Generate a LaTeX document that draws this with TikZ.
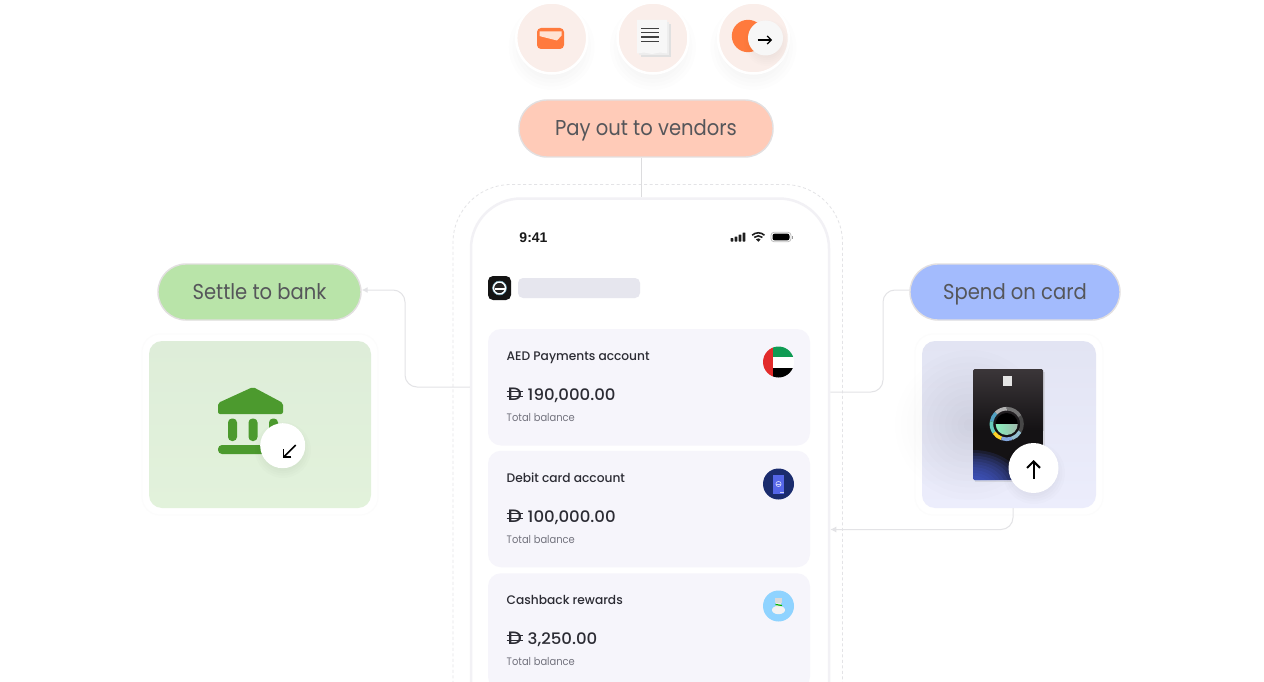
\documentclass[tikz,border=0pt]{standalone}
\usepackage{fontspec}
\setmainfont{Poppins}[FakeStretch=0.91]
\newfontfamily\medf{Poppins Medium}[FakeStretch=0.985]
\newfontfamily\amtf{Poppins Medium}[FakeStretch=1.05]
\newfontfamily\dhf{Poppins Medium}[FakeStretch=1.12]
\newfontfamily\clockf{Liberation Sans}
\usetikzlibrary{arrows.meta,calc}
\definecolor{pillpeach}{HTML}{FFCBB8}
\definecolor{pillgreen}{HTML}{B9E4A9}
\definecolor{pillblue}{HTML}{A3BBFD}
\definecolor{pilledge}{HTML}{E2DFE0}
\definecolor{pilltext}{HTML}{55565A}
\definecolor{connc}{HTML}{E3E3E6}
\definecolor{stemc}{HTML}{DCDCDE}
\definecolor{phonec}{HTML}{F2F1F5}
\definecolor{cardbg}{HTML}{F6F5FB}
\definecolor{skelc}{HTML}{E6E6EE}
\definecolor{inktitle}{HTML}{2C2C34}
\definecolor{inkgrey}{HTML}{74747F}
\definecolor{roundbg}{HTML}{FAEEEA}
\definecolor{orng}{HTML}{FF7A3D}
\definecolor{flapc}{HTML}{FFE2D3}
\definecolor{bankgreen}{HTML}{4C9A2E}
\definecolor{greentop}{HTML}{DEEDD9}
\definecolor{greenbot}{HTML}{E2F2DB}
\definecolor{lavtop}{HTML}{E2E4F3}
\definecolor{lavbot}{HTML}{ECEDFC}
\definecolor{flaggreen}{HTML}{0F9B53}
\definecolor{flagred}{HTML}{E22B2B}
\definecolor{navy}{HTML}{1B2C6E}
\definecolor{navyin}{HTML}{5566E8}
\definecolor{skyc}{HTML}{8FD3FF}
\definecolor{ccardtop}{HTML}{3B3639}
\definecolor{ccardmid}{HTML}{141214}
\definecolor{ccardblue}{HTML}{4A62E0}
\tikzset{
  pill/.style={draw=pilledge,line width=1.4pt,rounded corners=28pt,inner sep=0pt,font=\fontsize{21.5}{24}\selectfont,text=pilltext,text height=14pt,text depth=0pt},
  conn/.style={draw=connc,line width=1pt,rounded corners=12pt},
  tipped/.style={-{Latex[length=6pt,width=6pt]}},
  accard/.style={fill=cardbg,rounded corners=13pt,minimum width=322pt,minimum height=116.5pt,inner sep=0pt},
  actitle/.style={anchor=base west,inner sep=0pt,font=\medf\fontsize{12.4}{14}\selectfont,text=inktitle},
  acamount/.style={anchor=base west,inner sep=0pt,font=\amtf\fontsize{15.8}{18}\selectfont,text=inktitle},
  acnote/.style={anchor=base west,inner sep=0pt,font=\fontsize{10.9}{13}\selectfont,text=inkgrey},
  roundbadge/.style={circle,fill=roundbg,draw=white,line width=2.5pt,minimum size=71pt,inner sep=0pt},
  whitebadge/.style={circle,fill=white,inner sep=0pt},
  blackarrow/.style={draw=black,line width=1.6pt,-{Straight Barb[length=5.5pt,width=11pt]}},
  artcard/.style={rounded corners=13pt,inner sep=0pt},
}
% soft disc: centre x, y, radius, colour, opacity per layer
\newcommand{\softdisc}[5]{%
  \foreach \i in {0,...,11}{\fill[#4,opacity=#5] (#1,#2) circle ({#3*(1-\i/12)});}}
% dirham sign: index, baseline
\newcommand{\dirham}[2]{%
  \node[anchor=base west,inner sep=0pt,font=\dhf\fontsize{18}{18}\selectfont,text=inktitle] (dh#1) at (507.5,#2) {D};
  \draw[inktitle,line width=.9pt] (506.5,#2-8.2) -- (523,#2-8.2) (506.5,#2-3.6) -- (523,#2-3.6);}
\begin{document}
\begin{tikzpicture}[x=1pt,y=-1pt]
\useasboundingbox (0,0) rectangle (1264,682);
\clip (0,0) rectangle (1264,682);
\fill[white] (0,0) rectangle (1264,682);

% ---- outer dashed frame and phone
\node[draw=connc,line width=.8pt,dash pattern=on 3pt off 2.5pt,rounded corners=58pt,minimum width=389.5pt,minimum height=620pt,inner sep=0pt] (frame) at (647.75,494.5) {};
\node[draw=phonec,fill=white,line width=2.5pt,rounded corners=50pt,minimum width=358pt,minimum height=620pt,inner sep=0pt] (phone) at (650,508.5) {};

% ---- pills
\node[pill,fill=pillpeach,minimum width=254pt,minimum height=57pt] (payout) at (646,128.5) {Pay out to vendors};
\node[pill,fill=pillgreen,minimum width=203pt,minimum height=56pt] (settle) at (259.5,292) {Settle to bank};
\node[pill,fill=pillblue,minimum width=210pt,minimum height=56pt] (spend) at (1015,292) {Spend on card};

% ---- art cards
\draw[draw=black!1.2,line width=1pt,rounded corners=18pt] (142,334) rectangle (378,515);
\draw[draw=black!1.2,line width=1pt,rounded corners=18pt] (915,334) rectangle (1103,515);
\softdisc{965}{425}{70}{black}{.002}
\node[artcard,top color=greentop,bottom color=greenbot,minimum width=222pt,minimum height=167pt] (bankcard) at (260,424.5) {};
\node[artcard,top color=lavtop,bottom color=lavbot,minimum width=174pt,minimum height=167pt] (spendcard) at (1009,424.5) {};

% ---- connectors
\coordinate (bendL) at (405,340);
\coordinate (bendR) at (883,340);
\draw[conn,draw=stemc,line width=1.3pt] ([xshift=-4.5pt]payout.south) -- ([xshift=-8.5pt]phone.north);
\draw[conn,tipped] ([yshift=121.5pt]phone.west) -| (bendL) |- ([yshift=2pt]settle.east);
\draw[conn] ([yshift=116.5pt]phone.east) -| (bendR) |- ([yshift=2pt]spend.west);
\draw[conn,tipped] ([xshift=4pt]spendcard.south) |- ([yshift=-21pt]phone.east);

% ---- top badges
\softdisc{551.7}{47}{43}{black}{.008}
\softdisc{653}{47}{43}{black}{.008}
\softdisc{753.5}{47}{43}{black}{.008}
\node[roundbadge] (b1) at (551.7,38) {};
\node[roundbadge] (b2) at (653,38) {};
\node[roundbadge] (b3) at (753.5,38) {};
% wallet
\fill[orng,rounded corners=4pt] (537,28) rectangle (564,49);
\fill[flapc] (539.5,31.5) -- (561.5,31.5) -- (561.5,35.5) -- (557,40.5) -- (541,36.5) -- (539.5,36) -- cycle;
% receipt
\fill[black!12] (641,24) rectangle (670.5,57);
\fill[black!7] (639,22) rectangle (668.5,55.5);
\fill[white!97!black] (637,20) -- (667,20) -- (667,53.5) -- (660,52.5) -- (652,54) -- (644,52.5) -- (637,53.5) -- cycle;
\foreach \yy in {28.3,32.6,36.8,41.5}{\draw[black!75,line width=1.5pt] (641.3,\yy) -- (659,\yy);}
% coin and arrow
\fill[orng] (748,36) circle (16.2);
\softdisc{767}{43}{23}{black}{.007}
\node[whitebadge,minimum size=35pt,fill=white!97!black] (b3w) at (765.5,38) {};
\coordinate (a3s) at (757.7,40);
\coordinate (a3e) at (772,40);
\draw[blackarrow,line width=1.2pt,-{Straight Barb[length=4pt,width=8pt]}] (a3s) -- (a3e);

% ---- status bar
\node[anchor=center,inner sep=0pt,font=\clockf\bfseries\fontsize{14}{16}\selectfont,text=black!90] (clock) at (533.5,237.5) {9:41};
\foreach \xx/\yy in {730.5/238.2,734.5/236.5,738.5/234.5,742.5/232.5}{\fill[black!88,rounded corners=.5pt] (\xx,241.5) rectangle (\xx+2.8,\yy);}
\begin{scope}[shift={(758.3,241.8)},yscale=-1,line width=1.6pt,black!88]
  \fill (0,0) -- (133:3.4) arc[start angle=133,end angle=47,radius=3.4] -- cycle;
  \draw (133:6) arc[start angle=133,end angle=47,radius=6];
  \draw (133:9) arc[start angle=133,end angle=47,radius=9];
\end{scope}
\draw[black!25,line width=.8pt,rounded corners=3pt] (771,232.3) rectangle (791,241.7);
\fill[black,rounded corners=2.2pt] (772.5,233.6) rectangle (789.5,240.4);
\fill[black!40] (792,235.5) rectangle (793,238.5);

% ---- header of the app
\fill[black!92,rounded corners=5pt] (488,276) rectangle (511,300);
\node[circle,draw=white,line width=1.4pt,fill=black!85,minimum size=12pt,inner sep=0pt] (logo) at (499.5,288) {};
\fill[white] (494.5,287.5) rectangle (504.5,290.2);
\draw[cyan!40!white,line width=.4pt] (499.5,288) circle (7);
\fill[skelc,rounded corners=5pt] (518,278) rectangle (640,298);

% ---- account cards
\node[accard] (c1) at (649,387.25) {};
\node[accard] (c2) at (649,509) {};
\node[accard] (c3) at (649,631.5) {};

\node[actitle] (t1) at (506.5,360) {AED Payments account};
\node[actitle] (t2) at (506.5,482) {Debit card account};
\node[actitle] (t3) at (506.5,604) {Cashback rewards};
\dirham{1}{400}
\dirham{2}{522}
\dirham{3}{644}
\node[acamount] (m1) at (527.5,400) {190,000.00};
\node[acamount] (m2) at (527.5,522) {100,000.00};
\node[acamount] (m3) at (527.5,644) {3,250.00};
\node[acnote] (n1) at (506.5,421.7) {Total balance};
\node[acnote] (n2) at (506.5,543.7) {Total balance};
\node[acnote] (n3) at (506.5,665.7) {Total balance};

% flag
\begin{scope}
  \clip (778.5,362) circle (15.5);
  \fill[white] (763,346) rectangle (794,378);
  \fill[flaggreen] (773,346) rectangle (794,357);
  \fill[black] (773,367.5) rectangle (794,378);
  \fill[flagred] (763,346) rectangle (773,378);
\end{scope}
% debit icon
\fill[navy] (778.5,484) circle (15.5);
\fill[navyin] (773,475) rectangle (784,494);
\draw[white!70!navyin,line width=.7pt] (778.5,484) circle (2.6);
\fill[white!70!navyin] (776,484) rectangle (781,485);
\fill[white!70!navyin] (780,491.5) rectangle (783.5,492.7);
% cashback icon
\fill[skyc] (778.5,606) circle (15.5);
\fill[white!95!black] (778.5,610) ellipse (6.5 and 4.2);
\fill[white!85!black] (774.5,597.5) rectangle (782,603);
\fill[white!92!black] (776,603) rectangle (781,607);
\draw[green!70!black,line width=1.2pt] (775.5,604.5) -- (782,605.5);

% ---- bank art
\fill[bankgreen,rounded corners=2pt] (218,414) -- (218,403) -- (253,387) -- (283,403) -- (283,414) -- cycle;
\fill[bankgreen,rounded corners=4pt] (228,418.5) rectangle (237,441);
\fill[bankgreen,rounded corners=4pt] (248.5,418.5) rectangle (257.5,441);
\fill[bankgreen,rounded corners=4pt] (269,418.5) rectangle (278,441);
\fill[bankgreen,rounded corners=4pt] (218,445) rectangle (280,454);
\softdisc{283}{450}{28}{black}{.012}
\node[whitebadge,minimum size=45pt] (bankbadge) at (282.7,445.7) {};
\coordinate (a1s) at (295.7,445);
\coordinate (a1e) at (282.7,458);
\draw[blackarrow] (a1s) -- (a1e);

% ---- card art
\begin{scope}
  \clip[rounded corners=13pt] (922,341) rectangle (1096,508);
  \softdisc{970}{425}{75}{black}{.007}
\end{scope}
\fill[black!30,opacity=.35] (974.5,372) rectangle (1045,482);
\begin{scope}
  \clip[rounded corners=1.5pt] (973,369) rectangle (1043,480);
  \shade[top color=ccardtop,bottom color=ccardmid] (973,369) rectangle (1043,430);
  \fill[ccardmid] (973,430) rectangle (1043,480);
  \foreach \i in {0,...,13}{\fill[ccardblue,opacity=.14] (973,490) ellipse ({52*(1-\i/14)} and {40*(1-\i/14)});}
\end{scope}
\fill[white!90!black] (1002.5,376) rectangle (1012,386);
\begin{scope}[shift={(1006.7,424)},yscale=-1,line width=3.6pt]
  \foreach \sa/\ea/\cc in {30/90/black!55,-30/30/black!72,90/135/black!30,135/170/cyan!40!teal!85!white,170/215/cyan!50!green!60!white,215/250/yellow!65!orange!85!white,250/290/cyan!50!blue!50!white,290/330/black!40!cyan!50}{
    \draw[\cc] (\sa:15.3) arc[start angle=\sa,end angle=\ea,radius=15.3];}
\end{scope}
\begin{scope}
  \clip (1006.7,424) circle (11);
  \fill[black] (990,410) rectangle (1024,424);
  \shade[left color=cyan!50!green!50!white,right color=black!35!white] (990,424) rectangle (1024,440);
\end{scope}
\softdisc{1034}{473}{31}{black}{.012}
\node[whitebadge,minimum size=50pt] (cardbadge) at (1033.5,468) {};
\coordinate (a2s) at (1033.5,478.5);
\coordinate (a2e) at (1033.5,460);
\draw[blackarrow,line width=2pt,-{Straight Barb[length=6.5pt,width=13pt]}] (a2s) -- (a2e);
\end{tikzpicture}
\end{document}
